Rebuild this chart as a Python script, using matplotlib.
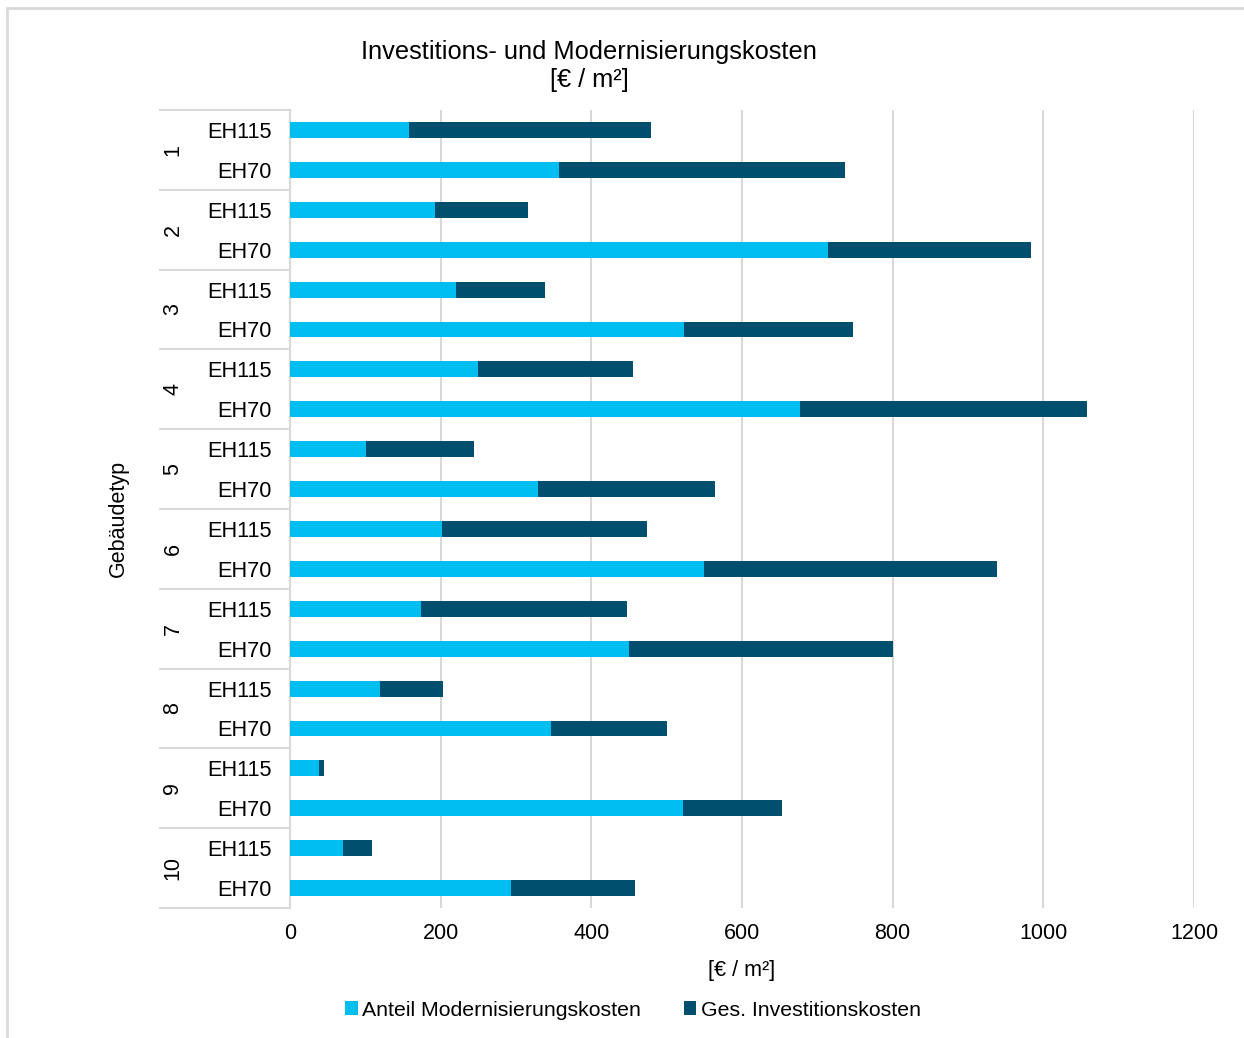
import matplotlib.pyplot as plt
import matplotlib.transforms as mtransforms
from matplotlib.lines import Line2D

plt.rcParams['font.family'] = ['Liberation Sans', 'DejaVu Sans']

# data
gebaeudetyp = ["1", "2", "3", "4", "5", "6", "7", "8", "9", "10"]
standards = ["EH115", "EH70"]
# Anteil Modernisierungskosten, pairs (EH115, EH70) per type
modernisierung = [158, 357, 193, 714, 220, 523, 250, 677, 101, 329,
                  202, 550, 174, 450, 120, 347, 39, 522, 70, 293]
# Ges. Investitionskosten (total bar length)
investition = [479, 737, 316, 983, 339, 748, 455, 1058, 244, 564,
               474, 938, 448, 801, 203, 501, 45, 653, 109, 458]

light = '#00BEF0'
dark = '#004F6E'
grid_col = '#D9D9D9'

fig = plt.figure(figsize=(12.44, 10.38), dpi=100)
ax = fig.add_axes([0.2331, 0.1252, 0.7267, 0.7688])

# light frame: only top and left edges visible
fx, fy = 7.5 / 1244, 1 - 7.5 / 1038
fig.lines.append(Line2D([fx, 1], [fy, fy], transform=fig.transFigure, color=grid_col, linewidth=2))
fig.lines.append(Line2D([fx, fx], [0, fy], transform=fig.transFigure, color=grid_col, linewidth=2))

n = len(modernisierung)
ypos = list(range(n))
labels = [standards[i % 2] for i in range(n)]

ax.barh(ypos, investition, height=0.4, color=dark, label="Ges. Investitionskosten", zorder=2)
ax.barh(ypos, modernisierung, height=0.4, color=light, label="Anteil Modernisierungskosten", zorder=3)

ax.set_xlim(0, 1200)
ax.set_ylim(n - 0.5, -0.5)
ax.set_xticks(range(0, 1201, 200))
ax.set_yticks(ypos)
ax.set_yticklabels(labels)
ax.tick_params(axis='y', length=0, pad=13, labelsize=15.7)
ax.tick_params(axis='x', length=0, pad=11, labelsize=15.5)
ax.xaxis.grid(True, color=grid_col, linewidth=1.5, zorder=0)
ax.set_axisbelow(True)
for s in ['top', 'right', 'bottom']:
    ax.spines[s].set_visible(False)
ax.spines['left'].set_color(grid_col)
ax.spines['left'].set_linewidth(1.5)

# group separators and group labels
trans = mtransforms.blended_transform_factory(ax.transAxes, ax.transData)
x0 = (160 - 290) / 904
for g in range(len(gebaeudetyp) + 1):
    yb = g * 2 - 0.5
    ax.plot([x0, 0], [yb, yb], color=grid_col, linewidth=1.5, transform=trans, clip_on=False)
for g, name in enumerate(gebaeudetyp):
    ax.text((173 - 290) / 904, g * 2 + 0.5, name, rotation=90, ha='center', va='center',
            fontsize=15.5, transform=trans)

fig.text(118 / 1244, 1 - 518 / 1038, "Gebäudetyp", rotation=90, ha='center', va='center', fontsize=15.5)
ax.set_xlabel("[€ / m²]", fontsize=15.5, labelpad=11)
fig.text(589 / 1244, 1 - 66 / 1038, "Investitions- und Modernisierungskosten\n[€ / m²]",
         ha='center', va='center', fontsize=18.3, linespacing=1.2)

h, l = ax.get_legend_handles_labels()
fig.legend(h[::-1], l[::-1], loc='center', bbox_to_anchor=(633 / 1244, 1 - 1010 / 1038), ncol=2,
           frameon=False, fontsize=15.3, handlelength=0.6, handleheight=0.6, handletextpad=0.2,
           columnspacing=2.0)

fig.savefig("out.png", dpi=100)
